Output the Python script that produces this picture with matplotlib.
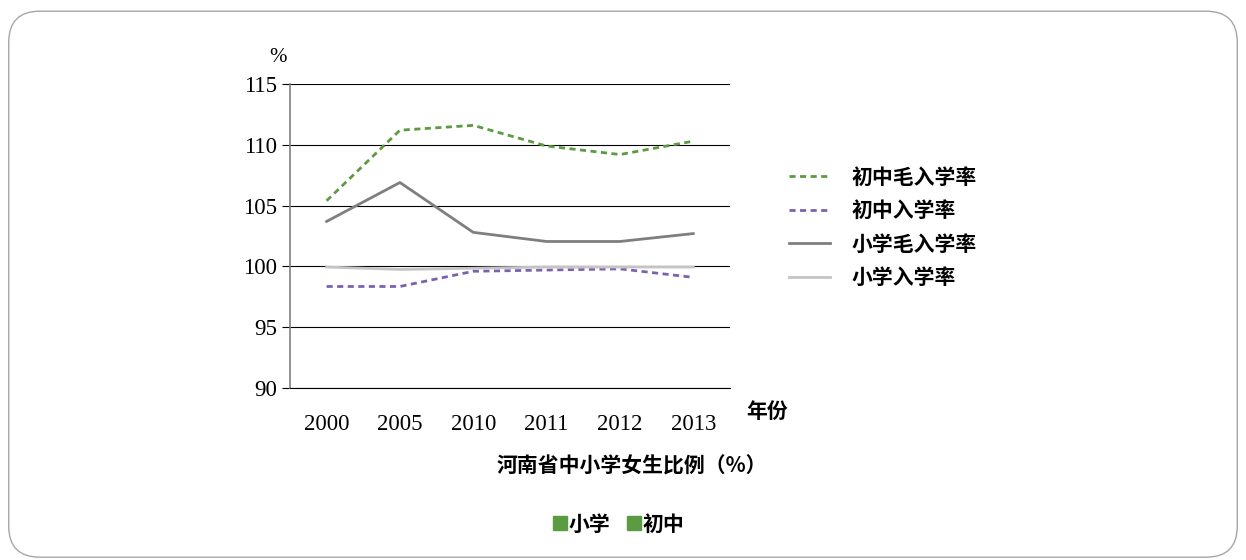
import numpy as np
import matplotlib
matplotlib.use('Agg')
import matplotlib.pyplot as plt
from matplotlib.patches import FancyBboxPatch, Patch
from matplotlib.lines import Line2D

plt.rcParams['font.family'] = ['Liberation Serif', 'Noto Sans CJK SC', 'DejaVu Sans']

years = ['2000', '2005', '2010', '2011', '2012', '2013']
junior_gross = [105.4, 111.2, 111.6, 109.9, 109.2, 110.3]
junior_net = [98.35, 98.35, 99.6, 99.7, 99.8, 99.1]
primary_gross = [103.7, 106.9, 102.8, 102.05, 102.05, 102.7]
primary_net = [99.95, 99.75, 99.85, 99.95, 99.95, 99.95]
series_names = ['初中毛入学率', '初中入学率', '小学毛入学率', '小学入学率']
bottom_names = ['小学', '初中']
yticks = [90, 95, 100, 105, 110, 115]

cjk = ['Noto Sans CJK SC', 'DejaVu Sans']

fig = plt.figure(figsize=(12.46, 5.6), dpi=100)
fig.patches.append(FancyBboxPatch((0.007, 0.005), 0.986, 0.975, boxstyle='round,pad=0,rounding_size=0.025',
                                  transform=fig.transFigure, fill=False, edgecolor='#a6a6a6', linewidth=1.0,
                                  mutation_aspect=1246 / 560))
ax = fig.add_axes([0.2327, 0.3071, 0.3531, 0.5429])

x = np.arange(len(years))
ax.plot(x, junior_gross, color='#5b9b41', linestyle=(0, (2.2, 1.6)), linewidth=2.0)
ax.plot(x, junior_net, color='#7b62b0', linestyle=(0, (2.2, 1.6)), linewidth=2.0)
ax.plot(x, primary_gross, color='#7f7f7f', linewidth=2.0)
ax.plot(x, primary_net, color='#c4c4c4', linewidth=2.0)

ax.set_xlim(-0.5, 5.5)
ax.set_ylim(90, 115)
ax.set_yticks(yticks)
ax.set_xticks(x)
ax.set_xticklabels(years)
ax.tick_params(axis='x', length=0, pad=19, labelsize=16.5)
ax.tick_params(axis='y', length=6, width=0.8, color='black', pad=3, labelsize=16.5)
ax.yaxis.grid(True, color='black', linewidth=0.8)
ax.set_axisbelow(True)
for s in ['top', 'right']:
    ax.spines[s].set_visible(False)
ax.spines['left'].set_color('#7f7f7f')
ax.spines['left'].set_linewidth(1.2)
ax.spines['bottom'].set_color('black')
ax.spines['bottom'].set_linewidth(0.8)

fig.text(278 / 1246, 1 - 58 / 560, '%', fontsize=15, ha='center', va='center')
fig.text(767 / 1246, 1 - 411 / 560, '年份', fontsize=15, ha='center', va='center', family=cjk, fontweight='bold')
fig.text(632 / 1246, 1 - 466 / 560, '河南省中小学女生比例（%）', fontsize=15, ha='center', va='center',
         family=cjk, fontweight='bold')

handles = [Line2D([], [], color='#5b9b41', linestyle=(0, (2.2, 1.6)), linewidth=2.0),
           Line2D([], [], color='#7b62b0', linestyle=(0, (2.2, 1.6)), linewidth=2.0),
           Line2D([], [], color='#7f7f7f', linewidth=2.0),
           Line2D([], [], color='#c4c4c4', linewidth=2.0)]
leg = fig.legend(handles, series_names, loc='upper left', bbox_to_anchor=(770 / 1246, 1 - 148 / 560),
                 frameon=False, prop={'family': cjk, 'size': 15, 'weight': 'bold'},
                 handlelength=2.0, handletextpad=1.0, labelspacing=0.6)

sq = [Patch(color='#5b9b41'), Patch(color='#5b9b41')]
fig.legend(sq, bottom_names, loc='center', bbox_to_anchor=(619 / 1246, 1 - 524 / 560), ncol=2,
           frameon=False, prop={'family': cjk, 'size': 15, 'weight': 'bold'},
           handlelength=0.65, handleheight=0.65, handletextpad=0.1, columnspacing=0.8)

fig.savefig('out.png', dpi=100)
